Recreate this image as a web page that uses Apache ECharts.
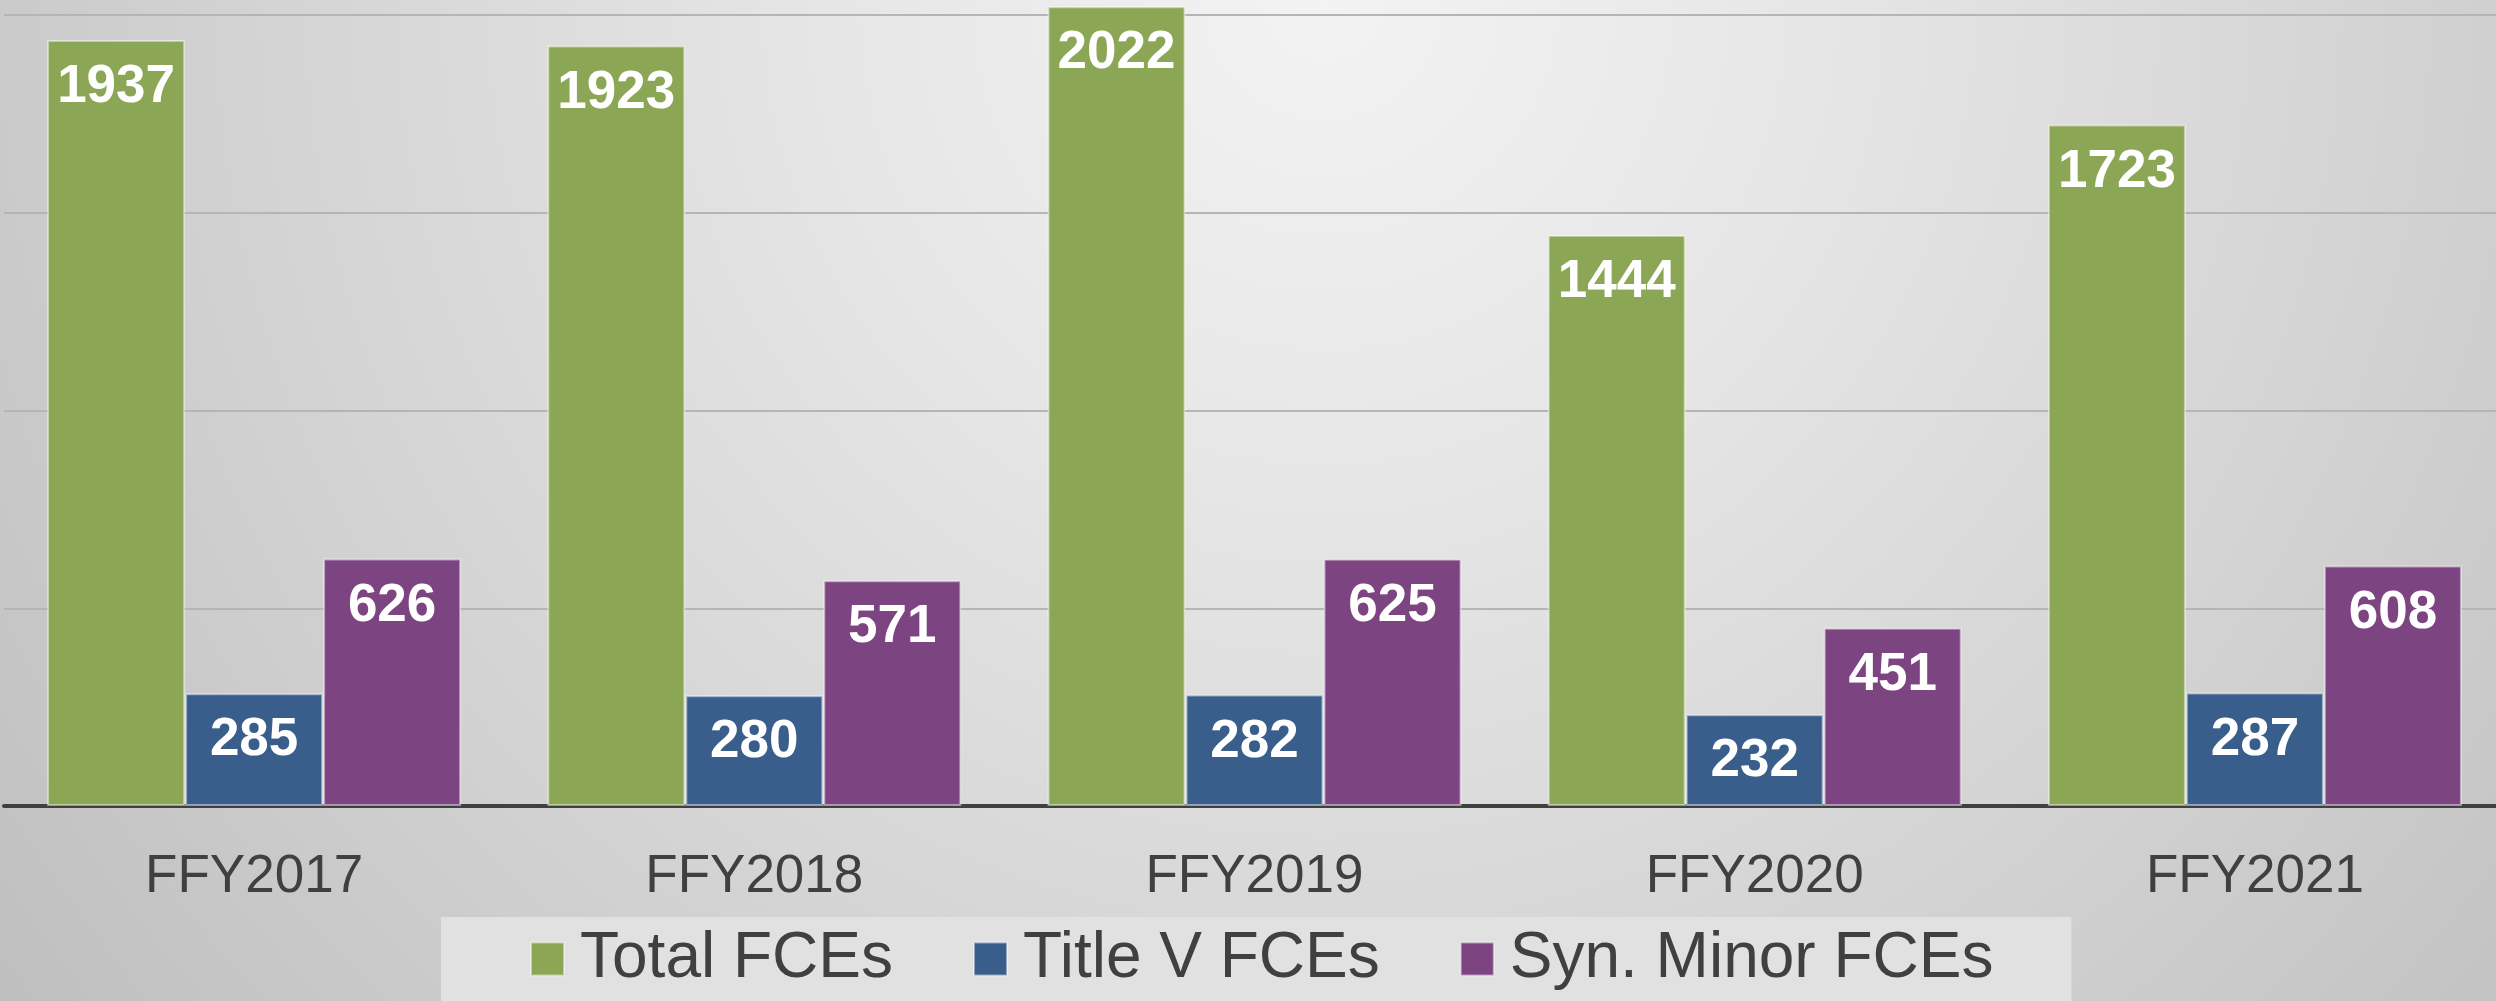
<!DOCTYPE html>
<html>
<head>
<meta charset="utf-8">
<title>FCEs by year</title>
<script src="https://cdn.jsdelivr.net/npm/echarts@6/dist/echarts.min.js"></script>
<style>
  html, body { margin: 0; padding: 0; }
  #chart { width: 2496px; height: 1001px; }
</style>
</head>
<body>
<div id="chart"></div>
<script>
// 数据
const years = ['FFY2017', 'FFY2018', 'FFY2019', 'FFY2020', 'FFY2021'];
const totalFCEs = [1937, 1923, 2022, 1444, 1723];
const titleVFCEs = [285, 280, 282, 232, 287];
const synMinorFCEs = [626, 571, 625, 451, 608];

const FONT = '"Liberation Sans", Arial, sans-serif';

function barSeries(name, data, color) {
  return {
    name: name,
    type: 'bar',
    data: data,
    barWidth: 138,
    barGap: '0%',
    itemStyle: {
      color: color,
      borderColor: 'rgba(255,255,255,0.45)',
      borderWidth: 2
    },
    label: {
      show: true,
      position: 'insideTop',
      distance: 21,
      color: '#ffffff',
      fontFamily: FONT,
      fontWeight: 'bold',
      fontSize: 53
    }
  };
}

const chart = echarts.init(document.getElementById('chart'));

chart.setOption({
  animation: false,
  backgroundColor: {
    type: 'radial',
    x: 0.53, y: 0, r: 1.65,
    colorStops: [
      { offset: 0, color: '#f3f3f3' },
      { offset: 0.3, color: '#e6e6e6' },
      { offset: 0.65, color: '#d3d3d3' },
      { offset: 1, color: '#bfbfbf' }
    ]
  },
  // 绘图区略超出右边缘
  grid: { left: 4, width: 2501, top: 0, bottom: 195, outerBoundsMode: 'none' },
  legend: {
    data: ['Total FCEs', 'Title V FCEs', 'Syn. Minor FCEs'],
    left: 441,
    top: 917,
    padding: [10, 78, 22, 89],
    backgroundColor: '#e1e1e1',
    itemWidth: 33,
    itemHeight: 33,
    itemGap: 80,
    icon: 'rect',
    itemStyle: { borderColor: 'rgba(255,255,255,0.45)', borderWidth: 2 },
    textStyle: {
      color: '#404040',
      fontFamily: FONT,
      fontSize: 64,
      lineHeight: 64,
      padding: [0, 0, 0, 11]
    }
  },
  xAxis: {
    type: 'category',
    data: years,
    axisTick: { show: false },
    axisLine: { show: true, lineStyle: { color: '#404040', width: 4 } },
    axisLabel: {
      color: '#404040',
      fontFamily: FONT,
      fontSize: 53,
      margin: 45
    }
  },
  yAxis: {
    type: 'value',
    min: 0,
    max: 2038,
    interval: 500,
    axisLabel: { show: false },
    axisLine: { show: false },
    axisTick: { show: false },
    splitLine: {
      show: true,
      showMaxLine: false,
      lineStyle: { color: '#b5b5b5', width: 2 }
    }
  },
  series: [
    barSeries('Total FCEs', totalFCEs, '#8ba654'),
    barSeries('Title V FCEs', titleVFCEs, '#3a5e8b'),
    barSeries('Syn. Minor FCEs', synMinorFCEs, '#7c4582')
  ]
});
</script>
</body>
</html>
